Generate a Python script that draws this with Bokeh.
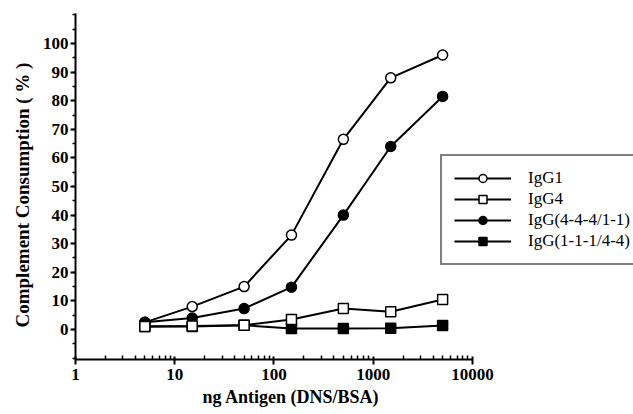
from bokeh.plotting import figure
from bokeh.models import (FixedTicker, NumeralTickFormatter, Legend, LegendItem, Range1d, Title)
from bokeh.embed import file_html
from bokeh.resources import INLINE

antigen = [5, 15, 50, 150, 500, 1500, 5000]
igg1 = [2.5, 8, 15, 33, 66.5, 88, 96]
igg4 = [1, 1.2, 1.5, 3.5, 7.3, 6.2, 10.5]
igg_4441 = [2.5, 4, 7.3, 14.8, 40, 64, 81.5]
igg_1114 = [1, 1, 1.5, 0.3, 0.3, 0.4, 1.4]

x_ticks = [1, 10, 100, 1000, 10000]
x_minor = [m * d for d in [1, 10, 100, 1000] for m in range(2, 10)]
y_ticks = list(range(0, 101, 10))
y_minor = list(range(-10, 111, 5))

FONT = "Liberation Serif"

p = figure(width=633, height=414, x_axis_type="log",
           x_range=Range1d(1, 419000), y_range=Range1d(-10.5, 110.5),
           output_backend="svg", toolbar_location=None,
           min_border_left=75, min_border_right=0, min_border_top=13, min_border_bottom=55)
p.grid.visible = False
p.outline_line_color = None

p.xaxis.ticker = FixedTicker(ticks=x_ticks, minor_ticks=x_minor)
p.xaxis.formatter = NumeralTickFormatter(format="0")
p.xaxis.bounds = (1, 10000)
p.yaxis.ticker = FixedTicker(ticks=y_ticks, minor_ticks=y_minor)

for ax in [p.xaxis[0], p.yaxis[0]]:
    ax.axis_line_width = 2
    ax.axis_line_color = "black"
    ax.major_tick_line_width = 2
    ax.minor_tick_line_width = 1.5
    ax.major_tick_line_color = "black"
    ax.minor_tick_line_color = "black"
    ax.major_label_text_font = FONT
    ax.major_label_text_font_style = "bold"
    ax.major_label_text_font_size = "17px"
    ax.major_label_text_color = "black"

p.xaxis.major_tick_out = 5
p.xaxis.major_tick_in = 3
p.xaxis.minor_tick_out = 0
p.xaxis.minor_tick_in = 4
p.xaxis.major_label_standoff = 4

p.yaxis.major_tick_out = 5
p.yaxis.major_tick_in = 0
p.yaxis.minor_tick_out = 3
p.yaxis.minor_tick_in = 0
p.yaxis.major_label_standoff = 2

# axis titles as side titles so they can be offset along the axis
p.add_layout(Title(text="ng Antigen (DNS/BSA)", align="left", offset=127,
                   text_font=FONT, text_font_style="bold", text_font_size="18px",
                   text_color="black", standoff=4), "below")
p.add_layout(Title(text="Complement Consumption ( % )", align="left", offset=32,
                   text_font=FONT, text_font_style="bold", text_font_size="19px",
                   text_color="black", standoff=14), "left")

lw = 2
r1 = p.line(antigen, igg1, line_color="black", line_width=lw)
r3 = p.line(antigen, igg_4441, line_color="black", line_width=lw)
r2 = p.line(antigen, igg4, line_color="black", line_width=lw)
r4 = p.line(antigen, igg_1114, line_color="black", line_width=lw)

m1 = p.scatter(antigen, igg1, marker="circle", size=10, fill_color="white", line_color="black", line_width=1.5)
m3 = p.scatter(antigen, igg_4441, marker="circle", size=10, fill_color="black", line_color="black", line_width=1.5)
m4 = p.scatter(antigen, igg_1114, marker="square", size=10, fill_color="black", line_color="black", line_width=1.5)
m2 = p.scatter(antigen, igg4, marker="square", size=10, fill_color="white", line_color="black", line_width=1.5)

legend = Legend(items=[
    LegendItem(label="IgG1", renderers=[r1, m1]),
    LegendItem(label="IgG4", renderers=[r2, m2]),
    LegendItem(label="IgG(4-4-4/1-1)", renderers=[r3, m3]),
    LegendItem(label="IgG(1-1-1/4-4)", renderers=[r4, m4]),
], location=(365, 94))
legend.label_text_font = FONT
legend.label_text_font_size = "17px"
legend.label_text_color = "black"
legend.glyph_width = 57
legend.glyph_height = 20
legend.label_height = 20
legend.label_standoff = 17
legend.spacing = 1
legend.padding = 12
legend.margin = 0
legend.border_line_color = "black"
legend.border_line_width = 2.5
legend.background_fill_alpha = 1
p.add_layout(legend)

open("out.html", "w").write(file_html(p, INLINE))
